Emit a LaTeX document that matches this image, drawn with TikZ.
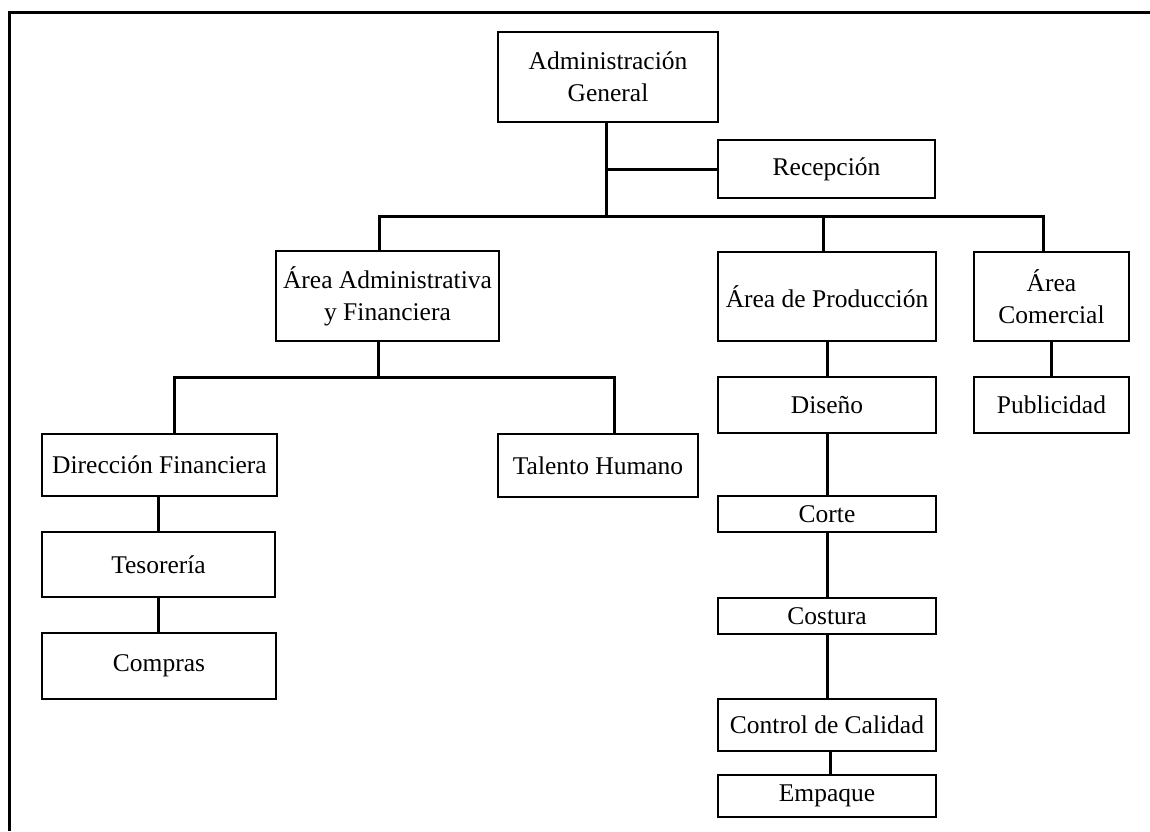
\documentclass[tikz,border=0pt]{standalone}
\usepackage{fontspec}
\setmainfont{Liberation Serif}
\begin{document}
\begin{tikzpicture}[x=1pt,y=-1pt,
  box/.style={draw=black, line width=2pt, fill=white, inner sep=0pt, outer sep=0pt,
    align=center, font=\fontsize{25.5}{32}\selectfont},
  link/.style={draw=black, line width=3pt},
  frameline/.style={draw=black, line width=3pt}]
\useasboundingbox (0,0) rectangle (1150,831);
\fill[white] (0,0) rectangle (1150,831);
% outer frame (open at right and bottom)
\coordinate (fbl) at (9,831);
\coordinate (ftl) at (9,12);
\coordinate (ftr) at (1150,12);
\draw[frameline] (fbl) -- (ftl) -- (ftr);

% nodes
\node[box, minimum width=220pt, minimum height=90pt] (admgen) at (608,77) {Administración\\General};
\node[box, minimum width=217pt, minimum height=58pt] (recep) at (826.5,169) {Recepción};
\node[box, minimum width=223pt, minimum height=90pt] (areaadm) at (387.5,296) {Área Administrativa\\y Financiera};
\node[box, minimum width=218pt, minimum height=89pt] (areaprod) at (827,296.5) {Área de Producción};
\node[box, minimum width=155pt, minimum height=89pt] (areacom) at (1051.5,296.5) {Área\\Comercial};
\node[box, minimum width=218pt, minimum height=56pt] (diseno) at (827,405) {Diseño};
\node[box, minimum width=155pt, minimum height=56pt] (publi) at (1051.5,405) {Publicidad};
\node[box, minimum width=218pt, minimum height=36pt] (corte) at (827,514) {Corte};
\node[box, minimum width=218pt, minimum height=36pt] (costura) at (827,616) {Costura};
\node[box, minimum width=218pt, minimum height=52pt] (control) at (827,725) {Control de Calidad};
\node[box, minimum width=218pt, minimum height=42pt] (empaque) at (827,796) {Empaque};
\node[box, minimum width=235pt, minimum height=62pt] (dirfin) at (159.5,465) {Dirección Financiera};
\node[box, minimum width=200pt, minimum height=63pt] (talento) at (598,465.5) {Talento Humano};
\node[box, minimum width=233pt, minimum height=65pt] (tesor) at (158.5,564.5) {Tesorería};
\node[box, minimum width=234pt, minimum height=66pt] (compras) at (159,666) {Compras};

% bus coordinates
\coordinate (t0) at (606,216);
\coordinate (b1) at (379,216);
\coordinate (b2) at (823,216);
\coordinate (b3) at (1043,216);
\coordinate (c0) at (378,377);
\coordinate (c1) at (174,377);
\coordinate (c2) at (614,377);

% connectors
\draw[link] (t0 |- admgen.south) -- (t0);
\draw[link] (t0 |- recep.west) -- (recep.west);
\draw[link] (b1 |- areaadm.north) -- (b1) -- (b3) -- (b3 |- areacom.north);
\draw[link] (b2) -- (b2 |- areaprod.north);
\draw[link] (c0 |- areaadm.south) -- (c0);
\draw[link] (c1 |- dirfin.north) -- (c1) -- (c2) -- (c2 |- talento.north);
\draw[link] ([xshift=-1pt]dirfin.south) -- ([xshift=-1pt]tesor.north -| dirfin.south);
\draw[link] ([xshift=-1pt]tesor.south -| dirfin.south) -- ([xshift=-1pt]compras.north -| dirfin.south);
\draw[link] (areaprod.south) -- (diseno.north);
\draw[link] (publi.north) -- (areacom.south);
\draw[link] (diseno.south) -- (corte.north);
\draw[link] (corte.south) -- (costura.north);
\draw[link] (costura.south) -- (control.north);
\draw[link] ([xshift=3pt]control.south) -- ([xshift=3pt]empaque.north);
\end{tikzpicture}
\end{document}
